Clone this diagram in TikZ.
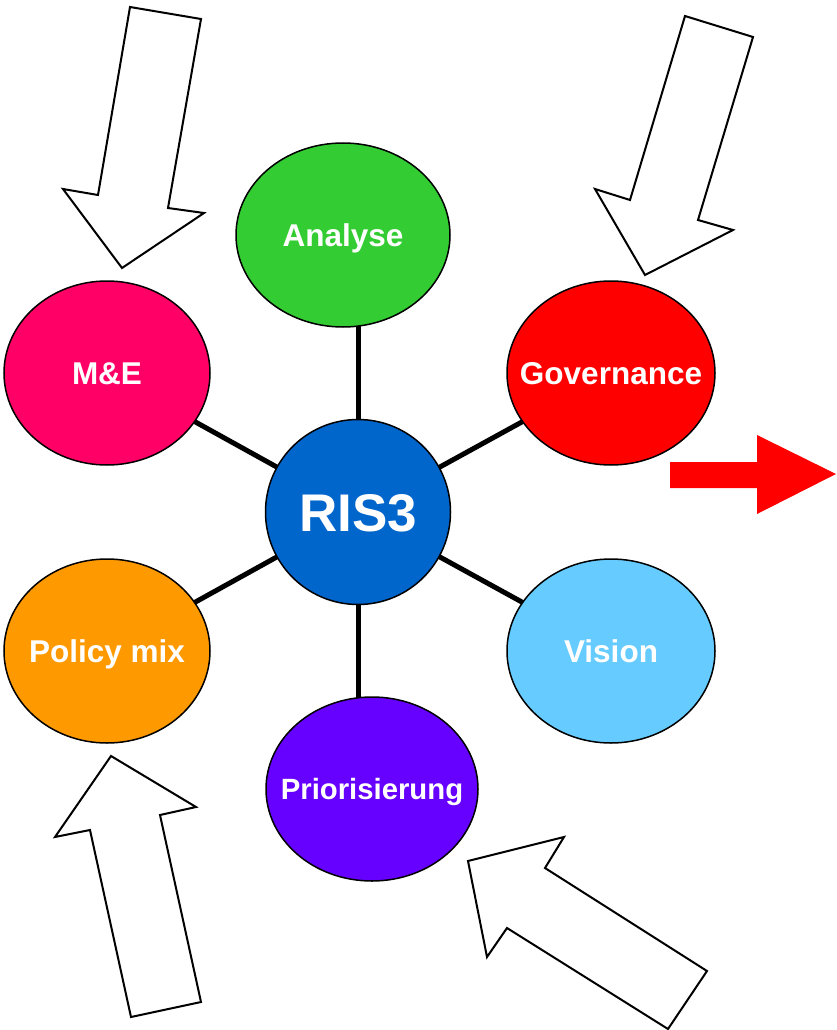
\documentclass[tikz,border=0pt]{standalone}
\usepackage{fontspec}
\setmainfont{Liberation Sans}
\usetikzlibrary{shapes.geometric,backgrounds}
\definecolor{cAna}{HTML}{33CC33}
\definecolor{cME}{HTML}{FF0066}
\definecolor{cGov}{HTML}{FF0000}
\definecolor{cRis}{HTML}{0066CC}
\definecolor{cPol}{HTML}{FF9900}
\definecolor{cVis}{HTML}{66CCFF}
\definecolor{cPri}{HTML}{6600FF}
\tikzset{
  bubble/.style={draw=black, line width=1.5pt, ellipse, inner sep=0pt,
    minimum width=208pt, minimum height=184pt},
  btxt/.style={text=white, font=\bfseries\fontsize{31.5}{36}\selectfont, inner sep=0pt,
    text height=22.5pt, text depth=0pt},
  spoke/.style={line width=5pt, black},
  hollow/.style={draw=black, fill=white, line width=2pt, line join=miter},
}
\begin{document}
\begin{tikzpicture}[x=1pt,y=-1pt]
\useasboundingbox (0,0) rectangle (836,1030);
% bubbles
\node[bubble, fill=cAna, minimum width=214pt, label={[btxt]center:Analyse}] (ana) at (343,235) {};
\node[bubble, fill=cME, minimum width=206pt, label={[btxt]center:M\&E}] (me) at (107,373) {};
\node[bubble, fill=cGov, label={[btxt]center:Governance}] (gov) at (611,373) {};
\node[bubble, fill=cPol, minimum width=206pt, label={[btxt]center:Policy mix}] (pol) at (107,651) {};
\node[bubble, fill=cVis, label={[btxt]center:Vision}] (vis) at (611,651) {};
\node[bubble, fill=cPri, minimum width=212pt, label={[btxt,font=\bfseries\fontsize{29.3}{34}\selectfont,text height=21pt]center:Priorisierung}] (pri) at (372,789) {};
\node[bubble, fill=cRis, minimum width=185pt, minimum height=185pt, label={[btxt,font=\bfseries\fontsize{53}{60}\selectfont,text height=38pt]center:RIS3}] (ris) at (358,512) {};
% spokes
\begin{scope}[on background layer]
\draw[spoke] (ris.center) -- (ris.center |- ana.center);
\draw[spoke] (ris.center) -- (ris.center |- pri.center);
\draw[spoke] (ris.center) -- (me.center);
\draw[spoke] (ris.center) -- (gov.center);
\draw[spoke] (ris.center) -- (pol.center);
\draw[spoke] (ris.center) -- (vis.center);
\end{scope}
% hollow arrows
\draw[hollow] (130,7) -- (201,19) -- (168,208) -- (204,213) -- (122,268) -- (63,189) -- (98,195) -- cycle;
\draw[hollow] (685,16) -- (753,37) -- (698,220) -- (733,230) -- (645,275) -- (595,189) -- (630,200) -- cycle;
\draw[hollow] (111,756) -- (196,807) -- (160,815) -- (201,1002) -- (131,1017) -- (90,830) -- (55,837) -- cycle;
\draw[hollow] (468,861) -- (564,837) -- (545,868) -- (707,971) -- (668,1029) -- (507,928) -- (487,957) -- cycle;
% red arrow
\fill[red] (670,462) -- (757,462) -- (757,435) -- (836,474) -- (757,514) -- (757,488) -- (670,488) -- cycle;
\end{tikzpicture}
\end{document}
